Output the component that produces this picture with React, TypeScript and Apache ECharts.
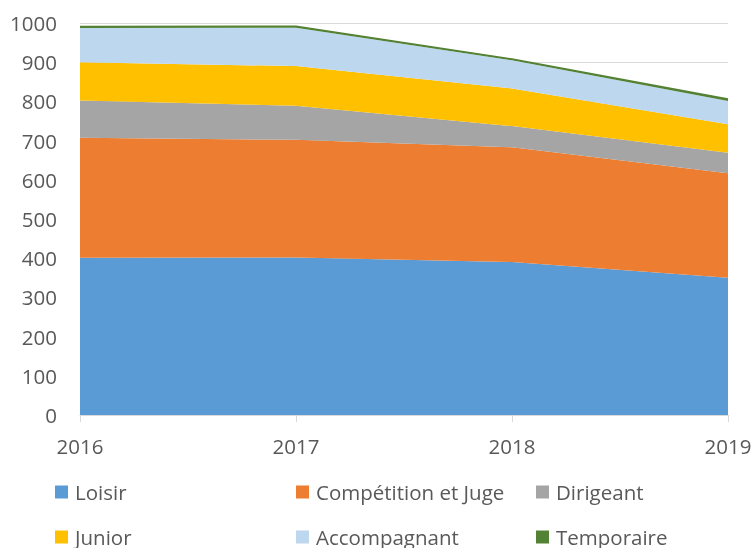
import React, { useEffect, useRef } from "react";
import * as echarts from "echarts";

const years = ["2016", "2017", "2018", "2019"];
const loisir = [401, 402, 390, 350];
const competition = [306, 300, 293, 267];
const dirigeant = [95, 87, 54, 52];
const junior = [98, 101, 96, 73];
const accompagnant = [87, 98, 72, 59];
const temporaire = [4, 4, 3, 5];

const FONT = "'Open Sans', sans-serif";
const TXT = "#595959";
const FS = 20.5;

export default function App() {
  const ref = useRef<HTMLDivElement>(null);
  useEffect(() => {
    if (!ref.current) return;
    const chart = echarts.init(ref.current, null, { renderer: "svg" });
    const mk = (name: string, data: number[], color: string, lw = 0) => ({
      name,
      type: "line",
      stack: "total",
      data,
      symbol: "none",
      smooth: false,
      lineStyle: { width: lw, color },
      itemStyle: { color },
      areaStyle: { color, opacity: 1 },
    });
    const lg = (name: string, left: number, top: number) => ({
      orient: "horizontal",
      left,
      top,
      padding: 0,
      icon: "rect",
      itemWidth: 13,
      itemHeight: 13,
      data: [name],
      textStyle: { fontSize: FS, color: TXT, fontFamily: FONT, lineHeight: 22, padding: [0, 0, 0, 2] },
    });
    const r1 = 481;
    const r2 = 526;
    chart.setOption({
      animation: false,
      grid: { left: 80, right: 27, top: 23, bottom: 133 },
      legend: [
        lg("Loisir", 55, r1),
        lg("Compétition et Juge", 296, r1),
        lg("Dirigeant", 536, r1),
        lg("Junior", 55, r2),
        lg("Accompagnant", 296, r2),
        lg("Temporaire", 536, r2),
      ],
      xAxis: {
        type: "category",
        data: years,
        boundaryGap: false,
        axisLine: { lineStyle: { color: "#d9d9d9", width: 1 } },
        axisTick: { show: true, length: 7, lineStyle: { color: "#d9d9d9" } },
        axisLabel: { fontSize: FS, color: TXT, fontFamily: FONT, margin: 20 },
      },
      yAxis: {
        type: "value",
        min: 0,
        max: 1000,
        interval: 100,
        axisLine: { show: false },
        axisTick: { show: false },
        splitLine: { lineStyle: { color: "#d9d9d9" } },
        axisLabel: { fontSize: FS, color: TXT, fontFamily: FONT, margin: 23, formatter: (v: number) => String(v) },
      },
      series: [
        mk("Loisir", loisir, "#5B9BD5"),
        mk("Compétition et Juge", competition, "#ED7D31"),
        mk("Dirigeant", dirigeant, "#A5A5A5"),
        mk("Junior", junior, "#FFC000"),
        mk("Accompagnant", accompagnant, "#BDD7EE"),
        mk("Temporaire", temporaire, "#548235", 1.5),
      ],
    });
    return () => chart.dispose();
  }, []);
  return (
    <div
      ref={ref}
      style={{ position: "fixed", left: 0, top: 0, width: 755, height: 548, overflow: "hidden" }}
    />
  );
}
